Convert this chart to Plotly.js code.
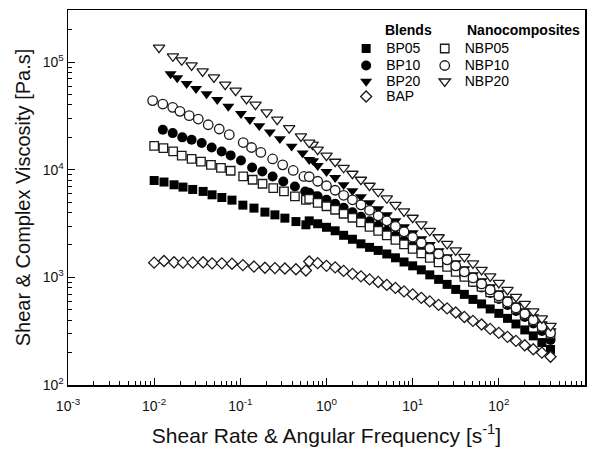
<!DOCTYPE html>
<html>
<head>
<meta charset="utf-8">
<script src="https://cdn.plot.ly/plotly-3.0.1.min.js"></script>
<style>html,body{margin:0;padding:0;background:#fff;}#chart{width:595px;height:453px;}</style>
</head>
<body>
<div id="chart"></div>
<script>
// ---------- data ----------
// steady-shear part (shear rate, s^-1) and viscosity (Pa.s)
const bp05SteadyX = [0.010,0.013,0.017,0.0216,0.028,0.037,0.047,0.061,0.080,0.107,0.144,0.193,0.252,0.329,0.442,0.577];
const bp05SteadyY = [7940,7690,7250,6900,6560,6290,5850,5520,5220,4690,4400,4040,3810,3550,3300,3080];
const bapSteadyX  = [0.010,0.013,0.017,0.0216,0.028,0.037,0.047,0.061,0.080,0.107,0.144,0.193,0.252,0.329,0.442,0.577];
const bapSteadyY  = [1370,1420,1380,1370,1370,1380,1350,1350,1340,1300,1260,1230,1220,1210,1190,1160];
const nbp05SteadyX = [0.010,0.0128,0.0166,0.0209,0.0272,0.0349,0.0456,0.0596,0.0772,0.108,0.139,0.181,0.241,0.321,0.430,0.577];
const nbp05SteadyY = [16700,15900,14800,13500,12600,11900,11100,10400,9790,8660,8070,7410,6760,6290,5650,5260];
const nbp10SteadyX = [0.0096,0.0126,0.0164,0.0199,0.0255,0.0325,0.0424,0.0569,0.0744,0.108,0.135,0.173,0.237,0.310,0.411,0.547];
const nbp10SteadyY = [43900,40800,38000,34900,31800,29600,26200,23900,21200,17900,16100,14500,12600,11100,9850,8660];
const bp10SteadyX = [0.0126,0.0164,0.0212,0.0272,0.0356,0.0465,0.0607,0.0772,0.1017,0.137,0.180,0.237,0.315,0.430,0.566,0.733];
const bp10SteadyY = [23500,21900,20000,19000,17700,16100,14800,13600,12200,10500,9640,8660,7780,7000,6290,5650];
const bp20SteadyX = [0.0155,0.0185,0.0238,0.0306,0.0406,0.054,0.0725,0.1017,0.129,0.166,0.220,0.288,0.394,0.528,0.701];
const bp20SteadyY = [77600,71300,63100,56700,50600,44800,38800,33200,29200,25600,22400,19400,16500,14300,12100];
const nbp20SteadyX = [0.0114,0.0165,0.0209,0.0272,0.0365,0.0494,0.0668,0.0882,0.118,0.150,0.202,0.268,0.369,0.505,0.690];
const nbp20SteadyY = [136500,113300,104000,93400,82100,72200,61800,54300,45500,40300,34100,29200,24400,20400,17100];

// oscillatory part (angular frequency, rad/s) and complex viscosity (Pa.s)
const freqDynamic = [0.63,0.79,1.0,1.26,1.58,2.0,2.51,3.16,3.98,5.01,6.31,7.94,10,12.6,15.8,20,25.1,31.6,39.8,50.1,63.1,79.4,100,126,158,200,251,316,398];
const bp05Dyn  = [3350,3150,2920,2710,2460,2260,2050,1900,1780,1650,1520,1390,1280,1175,1055,958,861,773,695,624,567,509,463,416,369,325,286,248,214];
const bp10Dyn  = [6110,5670,5260,4830,4430,4030,3650,3320,3010,2710,2430,2190,1960,1760,1585,1420,1280,1150,1020,908,807,717,631,555,488,429,373,318,262];
const bp20Dyn  = [12390,10900,9580,8430,7250,6380,5610,4930,4340,3810,3350,2950,2590,2280,2010,1760,1550,1360,1200,1055,928,816,717,631,555,488,429,369,318];
const bapDyn   = [1403,1355,1279,1239,1149,1078,1022,958,907,851,798,741,695,645,598,555,515,472,429,394,365,332,305,280,257,234,215,200,183];
const nbp05Dyn = [5370,4930,4580,4250,3900,3580,3250,2950,2710,2460,2230,2030,1840,1670,1520,1380,1250,1125,1010,908,816,725,645,573,509,448,394,343,298];
const nbp10Dyn = [8610,7820,7100,6450,5790,5260,4720,4200,3730,3350,2980,2650,2360,2090,1860,1650,1455,1280,1125,989,870,765,673,592,520,458,402,350,305];
const nbp20Dyn = [17830,15350,13500,11870,10430,9180,8070,7100,6240,5430,4720,4110,3580,3110,2710,2360,2050,1780,1550,1350,1175,1020,889,765,659,567,483,416,354];

const seriesNames = ['BP05','BP10','BP20','BAP','NBP05','NBP10','NBP20'];
const groupHeaders = ['Blends','Nanocomposites'];
const xTickVals = [0.001,0.01,0.1,1,10,100,1000];
const xTickText = ['10<sup>-3</sup>','10<sup>-2</sup>','10<sup>-1</sup>','10<sup>0</sup>','10<sup>1</sup>','10<sup>2</sup>','10<sup>3</sup>'];
const yTickVals = [100,1000,10000,100000];
const yTickText = ['10<sup>2</sup>','10<sup>3</sup>','10<sup>4</sup>','10<sup>5</sup>'];

// ---------- drawing ----------
const FONT = 'Liberation Sans, Arial, sans-serif';
const LEGFONT = 10.6;
function nm(s){ return '<span style="font-size:14px">' + s + '</span>'; }

function minorVals(lo, hi){
  const v = [];
  for (let e = lo; e < hi; e++) for (let m = 2; m <= 9; m++) v.push(m * Math.pow(10, e));
  return v;
}

function mk(name, xs, ys, symbol, filled, size, legend){
  return {
    type:'scatter', mode:'markers', name:nm(name),
    x: xs, y: ys, legend: legend,
    marker: filled
      ? {symbol:symbol, size:size, color:'#000', line:{width:0}}
      : {symbol:symbol, size:size, color:'#fff', line:{color:'#1a1a1a', width:1.3}},
    hoverinfo:'x+y'
  };
}

const data = [
  mk(seriesNames[0], bp05SteadyX.concat(freqDynamic), bp05SteadyY.concat(bp05Dyn), 'square', true, 9, 'legend'),
  mk(seriesNames[1], bp10SteadyX.concat(freqDynamic), bp10SteadyY.concat(bp10Dyn), 'circle', true, 10, 'legend2'),
  mk(seriesNames[2], bp20SteadyX.concat(freqDynamic), bp20SteadyY.concat(bp20Dyn), 'triangle-down', true, 10.5, 'legend3'),
  mk(seriesNames[3], bapSteadyX.concat(freqDynamic), bapSteadyY.concat(bapDyn), 'diamond', false, 8.5, 'legend4'),
  mk(seriesNames[4], nbp05SteadyX.concat(freqDynamic), nbp05SteadyY.concat(nbp05Dyn), 'square', false, 8.5, 'legend5'),
  mk(seriesNames[5], nbp10SteadyX.concat(freqDynamic), nbp10SteadyY.concat(nbp10Dyn), 'circle', false, 9.5, 'legend6'),
  mk(seriesNames[6], nbp20SteadyX.concat(freqDynamic), nbp20SteadyY.concat(nbp20Dyn), 'triangle-down', false, 10, 'legend7')
];

const axisCommon = {
  type:'log', showline:true, linecolor:'#000', linewidth:1.5, mirror:true,
  ticks:'inside', ticklen:7, tickwidth:1.2, tickcolor:'#000',
  tickmode:'array', showgrid:false, zeroline:false,
  tickfont:{family:FONT, size:14, color:'#111'}
};

function leg(x, y){
  return {x:x, y:y, xanchor:'left', yanchor:'top', bgcolor:'rgba(0,0,0,0)', borderwidth:0,
          font:{family:FONT, size:LEGFONT, color:'#000'}, tracegroupgap:0, itemclick:false};
}

const layout = {
  width:595, height:453,
  margin:{l:68, r:10, t:10, b:68},
  paper_bgcolor:'#fff', plot_bgcolor:'#fff',
  font:{family:FONT, color:'#000'},
  xaxis: Object.assign({}, axisCommon, {
    range:[-3, 3], tickvals:xTickVals, ticktext:xTickText, ticklabelstandoff:8,
    minor:{tickmode:'array', tickvals:minorVals(-3,3), ticks:'inside', ticklen:4, tickwidth:1, tickcolor:'#000', showgrid:false},
    title:{text:'Shear Rate &amp; Angular Frequency [s<sup>-1</sup>]', font:{family:FONT, size:21, color:'#111'}, standoff:15}
  }),
  yaxis: Object.assign({}, axisCommon, {
    range:[2, Math.log10(3.05e5)], tickvals:yTickVals, ticktext:yTickText,
    minor:{tickmode:'array', tickvals:minorVals(2,6), ticks:'inside', ticklen:4, tickwidth:1, tickcolor:'#000', showgrid:false},
    title:{text:'Shear &amp; Complex Viscosity [Pa.s]', font:{family:FONT, size:20, color:'#111'}, standoff:6}
  }),
  legend:  leg(0.538, 0.936),
  legend2: leg(0.538, 0.8907),
  legend3: leg(0.538, 0.848),
  legend4: leg(0.538, 0.808),
  legend5: leg(0.690, 0.936),
  legend6: leg(0.690, 0.8907),
  legend7: leg(0.690, 0.848),
  annotations:[
    {text:'<b>' + groupHeaders[0] + '</b>', xref:'paper', yref:'paper', x:0.609, y:0.947, xanchor:'left', yanchor:'middle', showarrow:false, font:{family:FONT, size:14, color:'#000'}},
    {text:'<b>' + groupHeaders[1] + '</b>', xref:'paper', yref:'paper', x:0.768, y:0.947, xanchor:'left', yanchor:'middle', showarrow:false, font:{family:FONT, size:14, color:'#000'}}
  ],
  showlegend:true
};

Plotly.newPlot('chart', data, layout, {displayModeBar:false, staticPlot:true});
</script>
</body>
</html>
